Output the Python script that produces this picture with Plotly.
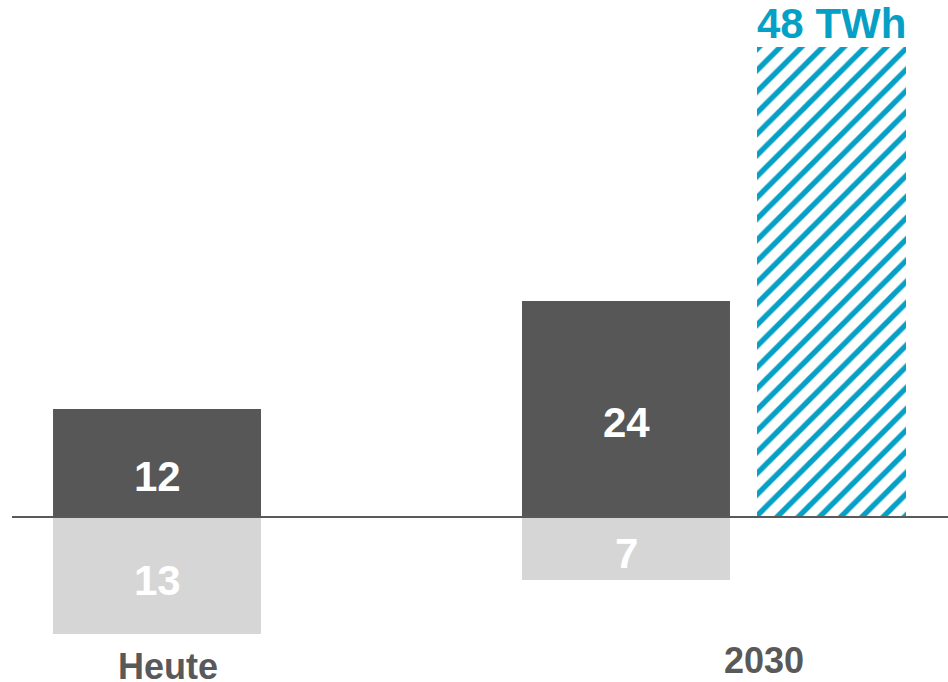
import plotly.graph_objects as go

# ---- data ----
categories = ["Heute", "2030"]
positive_vals = [12, 24]          # dark grey bars
negative_vals = [13, 7]           # light grey bars (drawn below zero)
projection_label = "48 TWh"
projection_val = 48               # hatched bar in 2030

# ---- layout helpers (positions in slot units) ----
cat_x = [0.0, 1.0]
bar_w = 0.4435
proj_x = 1.4382
proj_w = 0.3177
label_x = [0.0224, 1.294]

DARK = "#575757"
LIGHT = "#d6d6d6"
TEAL = "#06a0c6"
GREY_TXT = "#595959"
FONT = "Arial, Liberation Sans, sans-serif"

fig = go.Figure()

fig.add_trace(go.Bar(
    x=cat_x, y=positive_vals, width=bar_w, marker=dict(color=DARK, line=dict(width=0)),
    hoverinfo="skip", showlegend=False))
fig.add_trace(go.Bar(
    x=cat_x, y=[-v for v in negative_vals], width=bar_w,
    marker=dict(color=LIGHT, line=dict(width=0)),
    hoverinfo="skip", showlegend=False))
fig.add_trace(go.Bar(
    x=[proj_x], y=[projection_val], width=proj_w, yaxis="y2",
    marker=dict(color=TEAL, opacity=1, line=dict(width=0),
                pattern=dict(shape="/", fgcolor=TEAL, bgcolor="white", fgopacity=1,
                             size=15, solidity=0.36, fillmode="replace")),
    hoverinfo="skip", showlegend=False))

annotations = []
for x, v in zip(cat_x, positive_vals):
    annotations.append(dict(x=x, y=v / 2, xref="x", yref="y", text=f"<b>{v}</b>",
                            showarrow=False, yshift=-13,
                            font=dict(family=FONT, size=42, color="white")))
for x, v in zip(cat_x, negative_vals):
    annotations.append(dict(x=x, y=-v / 2, xref="x", yref="y", text=f"<b>{v}</b>",
                            showarrow=False, yshift=-5,
                            font=dict(family=FONT, size=42, color="white")))
annotations.append(dict(x=proj_x, y=projection_val, xref="x", yref="y2",
                        text=f"<b>{projection_label}</b>", showarrow=False,
                        yanchor="bottom", yshift=-2,
                        font=dict(family=FONT, size=42, color=TEAL)))
label_y = [-16.6, -15.9]
for x, y, c in zip(label_x, label_y, categories):
    annotations.append(dict(x=x, y=y, xref="x", yref="y", text=f"<b>{c}</b>",
                            showarrow=False,
                            font=dict(family=FONT, size=36, color=GREY_TXT)))

fig.update_layout(
    width=948, height=682,
    margin=dict(l=0, r=0, t=0, b=0),
    paper_bgcolor="white", plot_bgcolor="white",
    barmode="overlay",
    xaxis=dict(range=[-0.3348, 1.6866], visible=False, fixedrange=True),
    yaxis=dict(range=[-18.33, 57.44], visible=False, fixedrange=True),
    yaxis2=dict(range=[-16.85, 52.8], visible=False, overlaying="y", fixedrange=True),
    annotations=annotations,
    shapes=[dict(type="line", xref="paper", yref="y", x0=12 / 948, x1=1, y0=0, y1=0,
                 line=dict(color="#595959", width=2), layer="above")],
)

fig.write_html("out.html")
